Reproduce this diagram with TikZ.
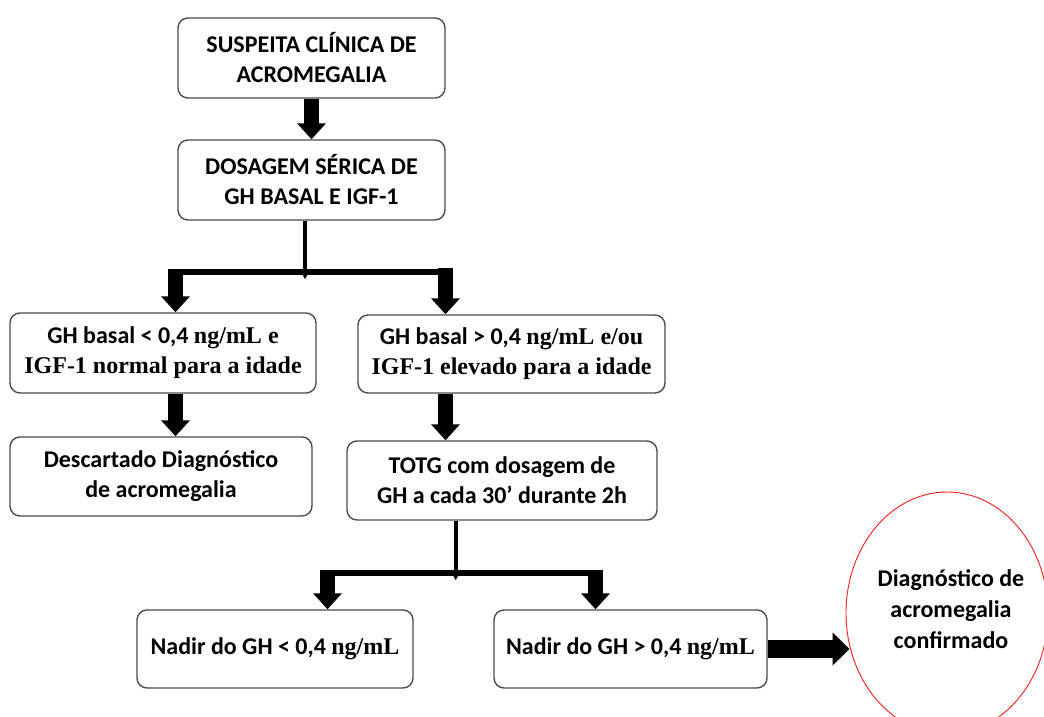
\documentclass[tikz,border=0pt]{standalone}
\usepackage{fontspec}
\setmainfont{Carlito}
\newfontfamily\srf{Liberation Serif}
\usetikzlibrary{arrows.meta,shapes.geometric}

\tikzset{
  caixa/.style={draw=black!70, line width=1.4pt, rounded corners=10pt, align=center,
    inner sep=0pt, font=\bfseries\fontsize{24}{30}\selectfont},
  seta/.style={line width=15pt, -{Triangle[width=28pt,length=16pt]}},
  setalarga/.style={line width=18pt, -{Triangle[width=32pt,length=17pt]}},
  haste/.style={line width=4pt},
  barra/.style={line width=6pt},
  confirma/.style={ellipse, draw=red!90, line width=0.9pt, minimum width=202pt, minimum height=242pt},
}

\begin{document}
\begin{tikzpicture}[x=1pt, y=-1pt]
    \useasboundingbox (0,0) rectangle (1044,717);
    \clip (0,0) rectangle (1044,717);

    % Caixas
    \node[caixa, minimum width=267pt, minimum height=80pt] (susp) at (311.5,58) {SUSPEITA CLÍNICA DE\\ACROMEGALIA};
    \node[caixa, minimum width=267pt, minimum height=80pt] (dosa) at (311.5,180) {DOSAGEM SÉRICA DE\\GH BASAL E IGF-1};
    \node[caixa, minimum width=306pt, minimum height=80pt] (baixo) at (163,353) {GH basal < 0,4 {\srf ng/mL e}\\{\srf IGF-1 normal para a idade}};
    \node[caixa, minimum width=307pt, minimum height=78pt] (alto) at (511.5,354) {GH basal > 0,4 {\srf ng/mL e/ou}\\{\srf IGF-1 elevado para a idade}};
    \node[caixa, minimum width=302pt, minimum height=79pt] (desc) at (161,476.5) {Descartado Diagnóstico\\de acromegalia};
    \node[caixa, minimum width=310pt, minimum height=79pt] (totg) at (502,480.5) {TOTG com dosagem de\\GH a cada 30’ durante 2h};
    \node[caixa, minimum width=276pt, minimum height=78pt] (nadirb) at (275,649) {Nadir do GH < 0,4 {\srf ng/mL}};
    \node[caixa, minimum width=273pt, minimum height=78pt] (nadira) at (630.5,649) {Nadir do GH > 0,4 {\srf ng/mL}};
    \node[confirma] (conf) at (947,613) {};
    \node[align=center, font=\bfseries\fontsize{24}{31}\selectfont] (conftxt) at (951,609) {Diagnóstico de\\acromegalia\\confirmado};

    % Pontos de bifurcacao
    \coordinate (jA) at (305,272);
    \coordinate (jAl) at (175.5,272);
    \coordinate (jAr) at (445.5,272);
    \coordinate (jB) at (455.7,573);
    \coordinate (jBl) at (327.5,573);
    \coordinate (jBr) at (595.5,573);

    % Setas
    \draw[seta] (susp) -- (dosa);
    \draw[haste] (dosa.south -| jA) -- (jA);
    \draw[barra] (jAl) -- (jAr);
    \fill (jA) ++(-4,0) -- ++(8,0) -- ++(-4,7) -- cycle;
    \draw[seta] ([yshift=3pt]jAl) -- (jAl |- baixo.north);
    \draw[seta] ([yshift=4pt]jAr) -- (jAr |- alto.north);
    \draw[seta] (baixo.south -| jAl) -- (jAl |- desc.north);
    \draw[seta] (alto.south -| jAr) -- (jAr |- totg.north);
    \draw[haste] (totg.south -| jB) -- (jB);
    \draw[barra] (jBl) -- (jBr);
    \fill (jB) ++(-4,0) -- ++(8,0) -- ++(-4,7) -- cycle;
    \draw[seta] ([yshift=3pt]jBl) -- (jBl |- nadirb.north);
    \draw[seta] ([yshift=3pt]jBr) -- (jBr |- nadira.north);
    \draw[setalarga] (nadira.east) -- ([xshift=4pt]nadira.east -| conf.west);
\end{tikzpicture}
\end{document}
